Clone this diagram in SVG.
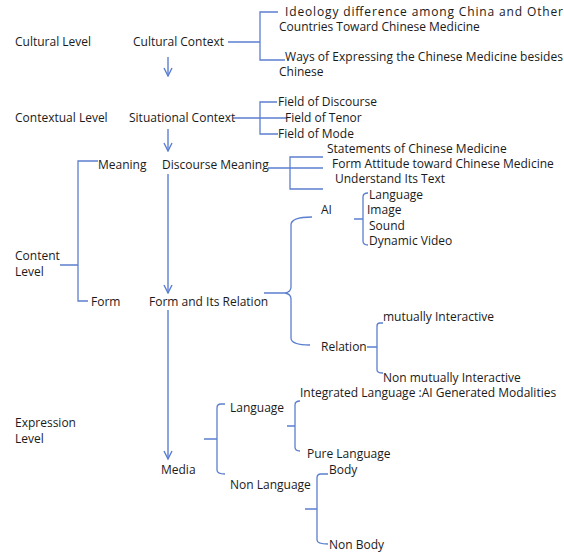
<svg xmlns="http://www.w3.org/2000/svg" width="564" height="552" viewBox="0 0 564 552">
<defs>
<marker id="arr" viewBox="0 0 10 10" refX="9" refY="5" markerWidth="10" markerHeight="10" markerUnits="userSpaceOnUse" orient="auto">
<path d="M1,1 L9,5 L1,9" fill="none" stroke="#5b7fd0" stroke-width="1.4"/>
</marker>
</defs>
<style>
text{font-family:"Open Sans","Liberation Sans",sans-serif;font-size:12px;fill:#1a1a1a}
.ln{fill:none;stroke:#5b7fd0;stroke-width:1.3}
.ar{fill:none;stroke:#5b7fd0;stroke-width:1.4;marker-end:url(#arr)}
</style>
<rect width="564" height="552" fill="#fff"/>
<g id="connectors">
<path class="ar" d="M168,57 V76"/>
<path class="ar" d="M168,129 V151"/>
<path class="ar" d="M168,174 V293"/>
<path class="ar" d="M168,310 V459"/>
<path class="ln" d="M228,42 H260 M278,12 H260 V60 H285"/>
<path class="ln" d="M233,118 H287 M277,102 H260 V134 H278"/>
<path class="ln" d="M268,168 H323 M323,157 H290 V189 H323"/>
<path class="ln" d="M98,161 H78 V301 H88 M60,265 H78"/>
<path class="ln" d="M312,217 Q291,217 291,225 V287 Q291,292 285,293 Q291,294 291,299 V338 Q291,345 310,345 M264,293 H285"/>
<path class="ln" d="M367,347 H377 M383,323 H380 Q377,323 377,326 V370 Q377,373 383,373"/>
<path class="ln" d="M354,219 H363 M368,193 Q363,193 363,197 V241 Q363,245 368,245"/>
<path class="ln" d="M204,439 H217 M225,404 H221 Q217,404 217,408 V470 Q217,474 225,474"/>
<path class="ln" d="M287,426 H295 M300,401 Q295,401 295,405 V447 Q295,451 300,451"/>
<path class="ln" d="M305,509 H317 M328,474 H321 Q317,474 317,478 V540 Q317,544 328,544"/>
</g>
<g id="cultural-level"><text x="15" y="46">Cultural Level</text></g>
<g id="cultural-context"><text x="133" y="46">Cultural Context</text></g>
<g id="ideology"><text x="285" y="16" textLength="278" lengthAdjust="spacing">Ideology difference among China and Other</text><text x="279" y="31">Countries Toward Chinese Medicine</text></g>
<g id="ways"><text x="285" y="61" textLength="278" lengthAdjust="spacing">Ways of Expressing the Chinese Medicine besides</text><text x="279" y="76">Chinese</text></g>
<g id="contextual-level"><text x="15" y="122">Contextual Level</text></g>
<g id="situational-context"><text x="129" y="122">Situational Context</text></g>
<g id="field-discourse"><text x="278" y="106">Field of Discourse</text></g>
<g id="field-tenor"><text x="285" y="122">Field of Tenor</text></g>
<g id="field-mode"><text x="278" y="138">Field of Mode</text></g>
<g id="content-level"><text x="15" y="260">Content</text><text x="15" y="276">Level</text></g>
<g id="meaning"><text x="98" y="169">Meaning</text></g>
<g id="discourse-meaning"><text x="162" y="169">Discourse Meaning</text></g>
<g id="statements"><text x="327" y="153">Statements of Chinese Medicine</text></g>
<g id="form-attitude"><text x="332" y="168">Form Attitude toward Chinese Medicine</text></g>
<g id="understand"><text x="335" y="183">Understand Its Text</text></g>
<g id="ai"><text x="321" y="214">AI</text></g>
<g id="ai-language"><text x="369" y="199">Language</text></g>
<g id="ai-image"><text x="367" y="214">Image</text></g>
<g id="ai-sound"><text x="369" y="230">Sound</text></g>
<g id="ai-video"><text x="369" y="245">Dynamic Video</text></g>
<g id="form"><text x="91" y="306">Form</text></g>
<g id="form-relation"><text x="149" y="306">Form and Its Relation</text></g>
<g id="relation"><text x="321" y="351">Relation</text></g>
<g id="mutually"><text x="383" y="321">mutually Interactive</text></g>
<g id="non-mutually"><text x="383" y="382">Non mutually Interactive</text></g>
<g id="expression-level"><text x="15" y="427">Expression</text><text x="15" y="443">Level</text></g>
<g id="media"><text x="161" y="474">Media</text></g>
<g id="language"><text x="230" y="412">Language</text></g>
<g id="integrated"><text x="300" y="397">Integrated Language :AI Generated Modalities</text></g>
<g id="pure-language"><text x="307" y="458">Pure Language</text></g>
<g id="non-language"><text x="230" y="489">Non Language</text></g>
<g id="body"><text x="329" y="474">Body</text></g>
<g id="non-body"><text x="329" y="549">Non Body</text></g>
</svg>
